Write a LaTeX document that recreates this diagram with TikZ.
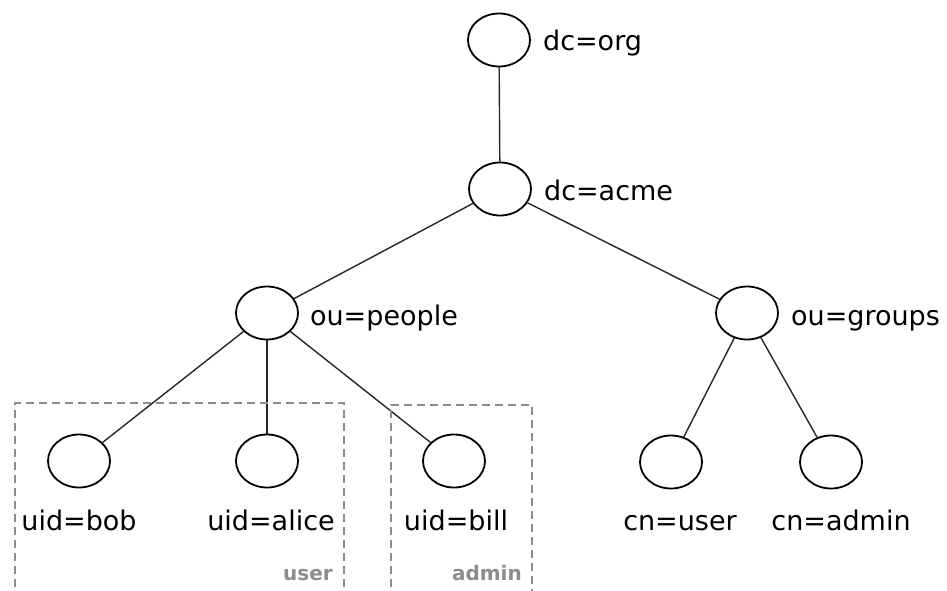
\documentclass[tikz,border=0pt]{standalone}
\usepackage{fontspec}
\setmainfont{DejaVu Sans}
\usetikzlibrary{positioning,shapes.geometric}

\begin{document}
\begin{tikzpicture}[x=1pt, y=-1pt,
  entry/.style={draw, ellipse, line width=1.8pt, minimum width=62pt, minimum height=53pt, inner sep=0pt},
  rdn/.style={font=\fontsize{27}{31}\selectfont, inner sep=0pt},
  link/.style={line width=1.4pt, black!85},
  grp/.style={draw=black!45, dash pattern=on 8pt off 5pt, line width=1.2pt},
  tag/.style={font=\fontsize{20}{23}\selectfont\bfseries, text=black!45, inner sep=0pt}
]
\useasboundingbox (0,0) rectangle (947,591);

\node[entry] (org) at (499,40) {};
\node[entry] (acme) at (500,189) {};
\node[entry] (people) at (267,313) {};
\node[entry] (groups) at (747,313) {};
\node[entry] (bob) at (79,461) {};
\node[entry] (alice) at (267,461) {};
\node[entry] (bill) at (454,461) {};
\node[entry] (cuser) at (671,462) {};
\node[entry] (cadmin) at (831,462) {};

\node[rdn, anchor=base west] (orgrdn) at ([xshift=12pt, yshift=-11pt]org.east) {dc=org};
\node[rdn, anchor=base west] (acmerdn) at ([xshift=12pt, yshift=-11pt]acme.east) {dc=acme};
\node[rdn, anchor=base west] (peoplerdn) at ([xshift=11pt, yshift=-12pt]people.east) {ou=people};
\node[rdn, anchor=base west] (groupsrdn) at ([xshift=12pt, yshift=-12pt]groups.east) {ou=groups};

\node[rdn, anchor=base] (bobrdn) at ([yshift=-69pt]bob.center) {uid=bob};
\node[rdn, anchor=base] (alicerdn) at ([xshift=4pt, yshift=-69pt]alice.center) {uid=alice};
\node[rdn, anchor=base] (billrdn) at ([xshift=2pt, yshift=-69pt]bill.center) {uid=bill};
\node[rdn, anchor=base] (cuserrdn) at ([xshift=9pt, yshift=-68pt]cuser.center) {cn=user};
\node[rdn, anchor=base] (cadminrdn) at ([xshift=10pt, yshift=-68pt]cadmin.center) {cn=admin};

\draw[link] (org) -- (acme);
\draw[link] (acme) -- (people);
\draw[link] (acme) -- (groups);
\foreach \leaf in {bob,alice,bill}
  \draw[link] (people) -- (\leaf);
\foreach \leaf in {cuser,cadmin}
  \draw[link] (groups) -- (\leaf);

\draw[grp] (15,600) |- (344,403) -- (344,600);
\draw[grp] (391,600) |- (532,405) -- (532,600);
\node[tag, anchor=base east] (usertag) at (333,580) {user};
\node[tag, anchor=base east] (admintag) at (522,580) {admin};

\end{tikzpicture}
\end{document}
